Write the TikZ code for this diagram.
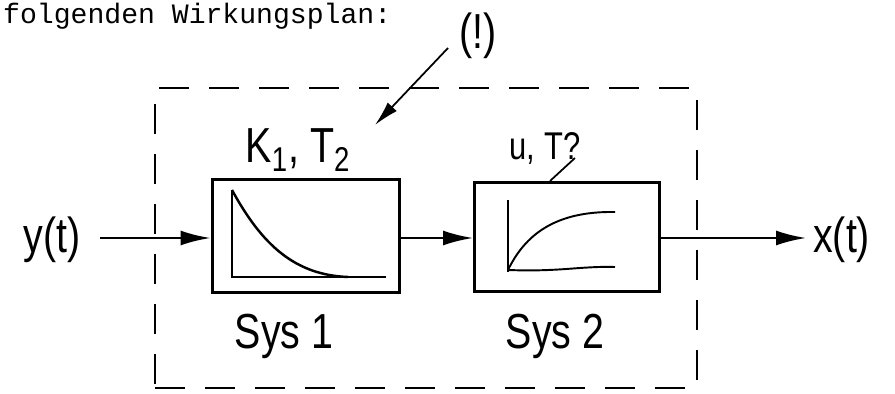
\documentclass[tikz,border=0pt]{standalone}
\usepackage{fontspec}
\usepackage{tikz}
\usetikzlibrary{arrows.meta}
\newfontfamily\handfont[FakeStretch=0.8]{Liberation Sans}
\newfontfamily\typefont{Liberation Mono}

\begin{document}
\begin{tikzpicture}[x=0.02cm,y=-0.02cm,line width=1.4pt,
    sysbox/.style={draw, line width=1.7pt, inner sep=0pt},
    frame/.style={draw, line width=1.5pt, dash pattern=on 0.6cm off 0.4cm, inner sep=0pt},
    sig/.style={-{Latex[length=0.6cm,width=0.3cm]}},
    hand/.style={font=\handfont\fontsize{28}{30}\selectfont, inner sep=0pt},
    note/.style={font=\handfont\fontsize{22}{24}\selectfont, inner sep=0pt}]
                        \useasboundingbox (0,0) rectangle (895,394);
                        \clip (0,0) rectangle (895,394);

                        % Nodes
                        \node[anchor=base west, font=\typefont\fontsize{16}{18}\selectfont, inner sep=0pt] (head) at (2,24) {folgenden Wirkungsplan:};
                        \node[frame, minimum width=10.84cm, minimum height=6cm] (frame) at (426,238) {};
                        \node[sysbox, minimum width=3.76cm, minimum height=2.28cm] (sys1) at (306,236) {};
                        \node[sysbox, minimum width=3.7cm, minimum height=2.2cm] (sys2) at (567,237) {};
                        \node[hand] (y) at (52,240) {y(t)};
                        \node[hand, anchor=west] (x) at (812,240) {x(t)};
                        \node[hand] (s1) at (284,336) {Sys 1};
                        \node[hand] (s2) at (555,336) {Sys 2};
                        \node[hand] (k1) at (298,150) {K\textsubscript{1}, T\textsubscript{2}};
                        \node[note] (u) at (545,148) {u, T?};
                        \node[hand] (warn) at (478,36) {(!)};

                        \coordinate (in) at (100,238);
                        \coordinate (out) at (806,238);
                        \coordinate (wtail) at (448,48);
                        \coordinate (wtip) at (375,125);
                        \coordinate (utail) at (575,158);
                        \coordinate (uhead) at (550,181);

                        % Edges
                        \draw[sig] (in) -- (sys1.west |- in);
                        \draw[sig] (sys1.east |- in) -- (sys2.west |- in);
                        \draw[sig] (sys2.east |- in) -- (out);
                        \draw[-{Latex[length=0.5cm,width=0.25cm]}, line width=1pt] (wtail) -- (wtip);
                        \draw[line width=1pt] (utail) -- (uhead);

                        % Curves
                        \draw (232,190) -- (232,277) -- (386,277);
                        \draw (232,190) .. controls (262,245) and (295,275) .. (348,277);
                        \draw[line width=1.1pt] (508,200) -- (508,272);
                        \draw[line width=1.1pt] (508,270) .. controls (560,272) and (580,266) .. (615,267);
                        \draw[line width=1.1pt] (508,270) .. controls (525,235) and (555,211) .. (615,212);
                    \end{tikzpicture}
\end{document}
